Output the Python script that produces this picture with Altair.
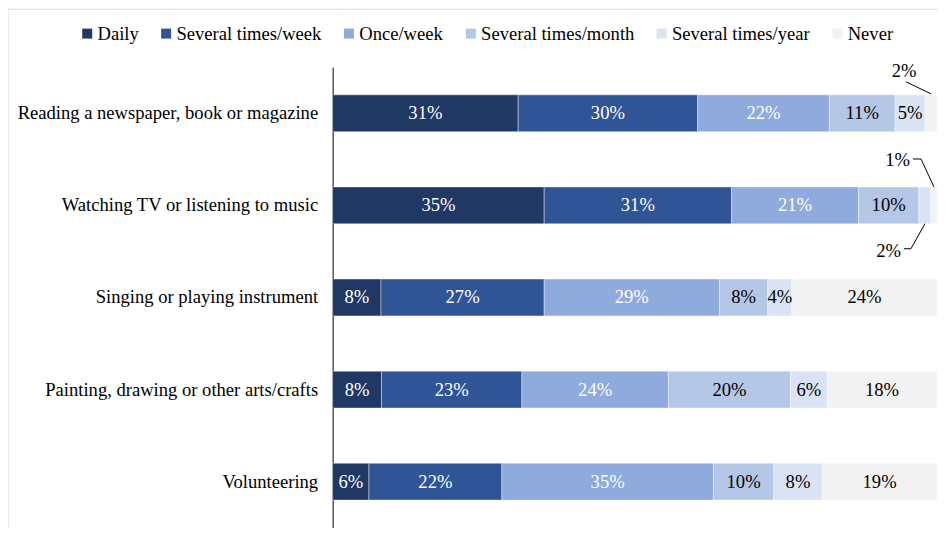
import altair as alt
import pandas as pd

activities = [
    "Reading a newspaper, book or magazine",
    "Watching TV or listening to music",
    "Singing or playing instrument",
    "Painting, drawing or other arts/crafts",
    "Volunteering",
]
frequencies = ["Daily", "Several times/week", "Once/week",
               "Several times/month", "Several times/year", "Never"]
daily = [31, 35, 8, 8, 6]
several_week = [30, 31, 27, 23, 22]
once_week = [22, 21, 29, 24, 35]
several_month = [11, 10, 8, 20, 10]
several_year = [5, 2, 4, 6, 8]
never = [2, 1, 24, 18, 19]
colors = ["#203864", "#2F5597", "#8FAADC", "#B4C7E7", "#DAE3F3", "#F2F2F2"]
text_colors = ["white", "white", "white", "black", "black", "black"]

# segments labelled outside the bar (activity index, frequency) -> leader shape
callouts = {
    (0, "Never"): "top",
    (1, "Never"): "top_hook",
    (1, "Several times/year"): "bottom_hook",
}

FONT = "Liberation Serif"
FS = 18.6
W, H = 605, 461
N = len(activities)
STEP = H / N

series = [daily, several_week, once_week, several_month, several_year, never]
rows = []
for i, act in enumerate(activities):
    vals = [s[i] for s in series]
    total = sum(vals)
    cum = 0
    for f, v, tc in zip(frequencies, vals, text_colors):
        rows.append({
            "activity": act, "idx": i, "frequency": f, "value": v,
            "start": cum / total, "end": (cum + v) / total,
            "mid": (cum + v / 2) / total, "label": f"{v}%", "tcolor": tc,
            "inside": (i, f) not in callouts,
        })
        cum += v
df = pd.DataFrame(rows)

# leader lines / outside labels (pixel offsets converted through scale units)
px_x = 1 / W
px_y = 1 / STEP
shapes = {
    "top": {"edge": -1, "pts": [(0, -1), (-25, -13)], "lab": (-27, -24), "align": "center"},
    "top_hook": {"edge": -1, "pts": [(0, 0), (-13, -28), (-21, -28)], "lab": (-24, -27), "align": "right"},
    "bottom_hook": {"edge": 1, "pts": [(0, 0), (-14, 25), (-21, 25)], "lab": (-24, 27), "align": "right"},
}
seg_rows, lab_rows = [], []
for (i, f), shp in callouts.items():
    r = df[(df.idx == i) & (df.frequency == f)].iloc[0]
    s = shapes[shp]
    ax = r["mid"]
    ay = i + 0.5 + s["edge"] * 0.2
    pts = [(ax + dx * px_x, ay + dy * px_y) for dx, dy in s["pts"]]
    for (x1, y1), (x2, y2) in zip(pts[:-1], pts[1:]):
        seg_rows.append({"x": x1, "y": y1, "x2": x2, "y2": y2})
    lab_rows.append({"x": ax + s["lab"][0] * px_x, "y": ay + s["lab"][1] * px_y,
                     "label": r["label"], "align": s["align"]})
seg_df = pd.DataFrame(seg_rows)
lab_df = pd.DataFrame(lab_rows)

xscale = alt.Scale(domain=[0, 1], nice=False, zero=False)
yband = alt.Scale(domain=activities, paddingInner=0.6, paddingOuter=0.3)
yq = alt.Scale(domain=[0, N], reverse=True, nice=False, zero=False)

base = alt.Chart(df)
bars = base.mark_bar(stroke="white", strokeWidth=0.4).encode(
    x=alt.X("start:Q", scale=xscale, axis=None),
    x2="end:Q",
    y=alt.Y("activity:N", scale=yband, sort=activities, title=None,
            axis=alt.Axis(labelFont=FONT, labelFontSize=FS, labelColor="black",
                          labelPadding=15, ticks=False, domainColor="black",
                          domainWidth=1, labelLimit=400)),
    color=alt.Color("frequency:N", sort=frequencies,
                    scale=alt.Scale(domain=frequencies, range=colors),
                    legend=alt.Legend(orient="none", legendX=-255, legendY=-43,
                                      direction="horizontal", title=None,
                                      symbolType="square", symbolSize=100,
                                      symbolStrokeWidth=0, labelFont=FONT,
                                      labelFontSize=FS, labelColor="black",
                                      labelOffset=1, columnPadding=18)),
)
texts = base.transform_filter("datum.inside").mark_text(
    font=FONT, fontSize=FS, baseline="middle", align="center"
).encode(
    x=alt.X("mid:Q", scale=xscale, axis=None),
    y=alt.Y("activity:N", scale=yband, sort=activities, title=None),
    text="label:N",
    color=alt.Color("tcolor:N", scale=None),
)
leaders = alt.Chart(seg_df).mark_rule(color="black", strokeWidth=1).encode(
    x=alt.X("x:Q", scale=xscale, axis=None),
    x2="x2:Q",
    y=alt.Y("y:Q", scale=yq, axis=None),
    y2="y2:Q",
)
lab_layers = []
for al in ["center", "right"]:
    lab_layers.append(
        alt.Chart(lab_df).transform_filter(alt.datum.align == al).mark_text(
            font=FONT, fontSize=FS, baseline="middle", color="black", align=al
        ).encode(
            x=alt.X("x:Q", scale=xscale, axis=None),
            y=alt.Y("y:Q", scale=yq, axis=None),
            text="label:N",
        )
    )

frame_df = pd.DataFrame({"k": [0]})
frame_top = alt.Chart(frame_df).mark_rule(color="#D9D9D9", strokeWidth=1).encode(
    x=alt.value(-325), x2=alt.value(620), y=alt.value(-58), y2=alt.value(-58))
frame_left = alt.Chart(frame_df).mark_rule(color="#D9D9D9", strokeWidth=1).encode(
    x=alt.value(-325), x2=alt.value(-325), y=alt.value(-58), y2=alt.value(480))

main = alt.layer(bars, texts)
ann = alt.layer(leaders, *lab_layers)
chart = alt.layer(frame_top, frame_left, main, ann).resolve_scale(y="independent").properties(
    width=W, height=H,
    autosize=alt.AutoSizeParams(type="none"),
    padding={"left": 325, "top": 59, "right": 0, "bottom": 0},
    background="white",
).configure_view(stroke=None)

chart.save("out.html", embed_options={"renderer": "svg", "actions": False})
